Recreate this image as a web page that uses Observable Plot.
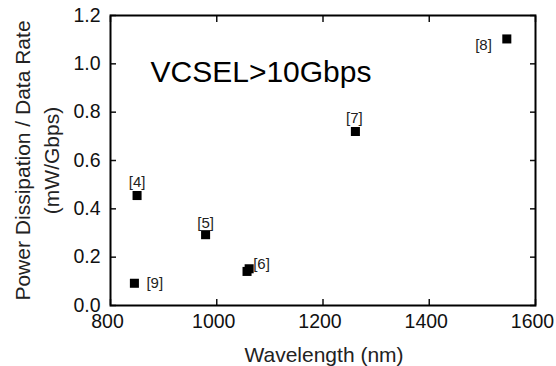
<!DOCTYPE html>
<html>
<head>
<meta charset="utf-8">
<script src="https://cdn.jsdelivr.net/npm/d3@7"></script>
<script src="https://cdn.jsdelivr.net/npm/@observablehq/plot@0.6"></script>
<style>
  html, body { margin: 0; padding: 0; background: #fff; }
  svg { font-family: Arial, "Liberation Sans", sans-serif; }
</style>
</head>
<body>
<div id="chart"></div>
<script>
// Data
const refs = ["[4]", "[9]", "[5]", "[6]", "[6]", "[7]", "[8]"];
const wavelength = [850, 845, 979, 1057, 1061, 1261, 1546];
const powerPerRate = [0.455, 0.092, 0.293, 0.141, 0.152, 0.72, 1.103];
const showLabel = [true, true, true, false, true, true, true];
const xTicks = [800, 1000, 1200, 1400, 1600];
const yTicks = [0, 0.2, 0.4, 0.6, 0.8, 1.0, 1.2];
const title = "VCSEL>10Gbps";
const xLabel = "Wavelength (nm)";
const yLabel = "Power Dissipation / Data Rate\n(mW/Gbps)";

const data = refs.map((r, i) => ({ref: r, x: wavelength[i], y: powerPerRate[i], show: showLabel[i]}));

// label placement (styling)
const place = {
  "[4]": {dx: 0, dy: -13, textAnchor: "middle"},
  "[9]": {dx: 12, dy: 0, textAnchor: "start"},
  "[5]": {dx: 0, dy: -12, textAnchor: "middle"},
  "[6]": {dx: 4, dy: -5, textAnchor: "start"},
  "[7]": {dx: -1, dy: -13, textAnchor: "middle"},
  "[8]": {dx: -15, dy: 6, textAnchor: "end"}
};

const labelMarks = Object.entries(place).map(([ref, p]) =>
  Plot.text(data.filter(d => d.ref === ref && d.show), {
    x: "x", y: "y", text: "ref", fontSize: 15, fill: "#222", ...p
  })
);

const chart = Plot.plot({
  width: 556,
  height: 366,
  marginLeft: 110,
  marginRight: 21,
  marginTop: 15,
  marginBottom: 61,
  style: {fontFamily: "Arial, 'Liberation Sans', sans-serif", color: "#111", background: "#fff"},
  x: {domain: [800, 1600]},
  y: {domain: [0, 1.2]},
  marks: [
    Plot.axisX({anchor: "bottom", ticks: xTicks, tickSize: 0, tickPadding: 9, dx: -3, fontSize: 19.5, label: null, tickFormat: d => String(d)}),
    Plot.axisX({anchor: "bottom", ticks: xTicks, tickSize: -6, tickFormat: () => "", label: null, strokeWidth: 1.5}),
    Plot.axisX({anchor: "top", ticks: xTicks, tickSize: -6, tickFormat: () => "", label: null, strokeWidth: 1.5}),
    Plot.axisY({anchor: "left", ticks: yTicks, tickSize: 0, tickPadding: 10, fontSize: 19.5, label: null, tickFormat: d3.format(".1f")}),
    Plot.axisY({anchor: "left", ticks: yTicks, tickSize: -6, tickFormat: () => "", label: null, strokeWidth: 1.5}),
    Plot.axisY({anchor: "right", ticks: yTicks, tickSize: -6, tickFormat: () => "", label: null, strokeWidth: 1.5}),
    Plot.frame({stroke: "#000", strokeWidth: 2}),
    Plot.dot(data, {x: "x", y: "y", symbol: "square", r: 5.1, fill: "#000", stroke: "none"}),
    ...labelMarks,
    Plot.text([title], {frameAnchor: "top-left", dx: 40, dy: 66, fontSize: 30, textAnchor: "start", lineAnchor: "bottom", fill: "#000"}),
    Plot.text([xLabel], {frameAnchor: "bottom", dx: 1, dy: 56, fontSize: 21, fill: "#222", lineAnchor: "bottom"}),
    Plot.text([yLabel], {frameAnchor: "left", dx: -75, rotate: -90, fontSize: 21, fill: "#222", textAnchor: "middle", lineAnchor: "middle", lineHeight: 1.35})
  ]
});
document.getElementById("chart").appendChild(chart);
</script>
</body>
</html>
